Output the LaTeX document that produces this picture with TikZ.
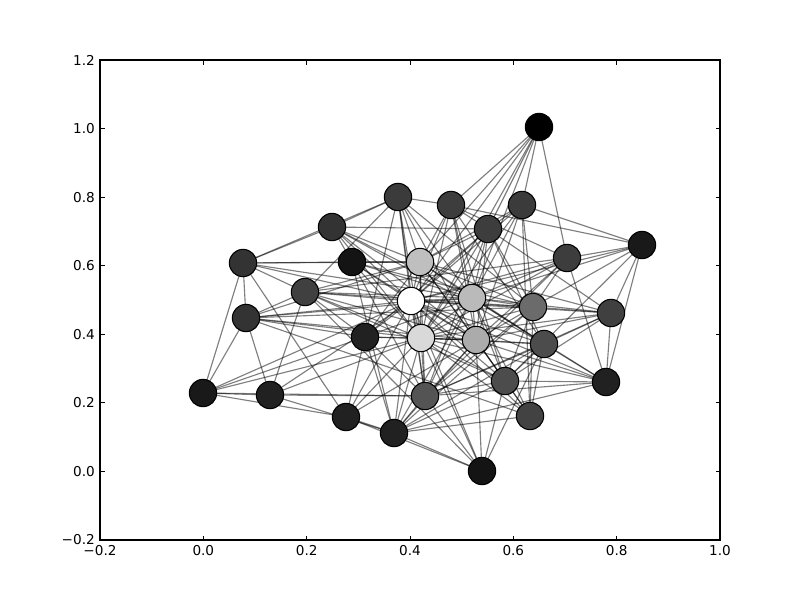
\documentclass[tikz,border=0pt]{standalone}
\usepackage{fontspec}
\setmainfont{DejaVu Sans}
\usetikzlibrary{backgrounds}
\begin{document}
\begin{tikzpicture}[x=0.75pt,y=-0.75pt,
  vtx/.style={circle,draw=black,line width=0.8pt,minimum size=20.5pt,inner sep=0pt},
  edge/.style={draw=black,opacity=0.5,line width=0.85pt},
  tickmark/.style={line width=0.6pt},
  lbl/.style={font=\fontsize{10.2}{12}\selectfont,inner sep=0pt}]
\useasboundingbox (0,0) rectangle (800,600);
% nodes
\node[vtx,fill=black] (n1) at (539,127) {};
\node[vtx,fill=black!77] (n2) at (398,197) {};
\node[vtx,fill=black!76] (n3) at (451,205) {};
\node[vtx,fill=black!77] (n4) at (522,205) {};
\node[vtx,fill=black!80] (n5) at (332,227) {};
\node[vtx,fill=black!76] (n6) at (488,229) {};
\node[vtx,fill=black!80] (n7) at (243,263) {};
\node[vtx,fill=black!92] (n8) at (352,262) {};
\node[vtx,fill=black!25] (n9) at (420,262) {};
\node[vtx,fill=black!76] (n10) at (567,258) {};
\node[vtx,fill=black!90] (n11) at (642,245) {};
\node[vtx,fill=black!75] (n12) at (305,292) {};
\node[vtx,fill=white] (n13) at (411,301) {};
\node[vtx,fill=black!27] (n14) at (472,298) {};
\node[vtx,fill=black!58] (n15) at (533,307) {};
\node[vtx,fill=black!75] (n16) at (611,313) {};
\node[vtx,fill=black!80] (n17) at (246,318) {};
\node[vtx,fill=black!87] (n18) at (365,337) {};
\node[vtx,fill=black!15] (n19) at (421,338) {};
\node[vtx,fill=black!33] (n20) at (476,340) {};
\node[vtx,fill=black!70] (n21) at (544,344) {};
\node[vtx,fill=black!90] (n22) at (203,393) {};
\node[vtx,fill=black!87] (n23) at (270,395) {};
\node[vtx,fill=black!67] (n24) at (425,396) {};
\node[vtx,fill=black!70] (n25) at (505,381) {};
\node[vtx,fill=black!87] (n26) at (606,382) {};
\node[vtx,fill=black!87] (n27) at (346,417) {};
\node[vtx,fill=black!74] (n28) at (530,416) {};
\node[vtx,fill=black!87] (n29) at (394,433) {};
\node[vtx,fill=black!92] (n30) at (482,471) {};
% edges
\begin{scope}[on background layer]
\foreach \a/\b in {1/3,1/4,1/6,1/9,1/10,1/13,1/14,1/19,
 2/3,2/5,2/7,2/9,2/12,2/13,2/14,2/15,2/18,2/19,2/20,2/24,
 3/6,3/9,3/10,3/11,3/13,3/14,3/19,3/20,3/21,3/25,
 4/6,4/9,4/11,4/13,4/14,4/15,4/19,4/20,4/28,
 5/6,5/7,5/8,5/9,5/13,5/14,5/19,5/20,5/21,
 6/9,6/13,6/14,6/15,6/16,6/18,6/19,6/20,6/21,6/24,
 7/8,7/9,7/12,7/13,7/14,7/17,7/22,7/27,
 8/9,8/13,8/14,8/15,8/19,8/20,8/24,8/29,
 9/12,9/13,9/14,9/15,9/16,9/17,9/18,9/19,9/20,9/21,9/24,9/25,
 10/11,10/12,10/13,10/14,10/15,10/19,10/20,10/24,10/26,
 11/13,11/14,11/15,11/16,11/25,11/26,
 12/13,12/14,12/15,12/17,12/18,12/19,12/20,12/23,12/25,12/30,
 13/14,13/15,13/16,13/17,13/18,13/19,13/20,13/21,13/22,13/23,13/24,13/25,13/26,13/27,13/28,13/29,13/30,
 14/15,14/16,14/17,14/18,14/19,14/20,14/21,14/24,14/25,14/26,14/28,14/29,
 15/16,15/17,15/19,15/20,15/24,15/25,15/28,15/29,
 16/19,16/20,16/21,16/24,16/25,16/26,
 17/18,17/19,17/20,17/22,17/23,17/28,
 18/19,18/20,18/22,18/24,18/27,18/29,
 19/20,19/21,19/22,19/23,19/24,19/25,19/26,19/27,19/28,19/29,19/30,
 20/21,20/24,20/25,20/26,20/27,20/28,20/29,20/30,
 21/24,21/25,21/26,21/28,21/29,21/30,
 22/23,22/24,22/27,
 23/24,23/29,
 24/25,24/26,24/29,24/30,
 25/26,25/28,25/29,25/30,
 26/29,27/29,27/30,28/29,29/30}
  \draw[edge] (n\a.center) -- (n\b.center);
\end{scope}
% axes frame
\draw[line width=0.8pt] (100,60) rectangle (720,540);
% x ticks
\foreach \v/\t in {-0.2/{−0.2},0.0/{0.0},0.2/{0.2},0.4/{0.4},0.6/{0.6},0.8/{0.8},1.0/{1.0}}{
  \pgfmathsetmacro{\px}{100+(\v+0.2)*516.667}
  \draw[tickmark] (\px,540) -- (\px,535.5);
  \draw[tickmark] (\px,60) -- (\px,64.5);
  \node[lbl,anchor=north] at (\px,545) {\t};
}
% y ticks
\foreach \v/\t in {-0.2/{−0.2},0.0/{0.0},0.2/{0.2},0.4/{0.4},0.6/{0.6},0.8/{0.8},1.0/{1.0},1.2/{1.2}}{
  \pgfmathsetmacro{\py}{540-(\v+0.2)*342.857}
  \draw[tickmark] (100,\py) -- (104.5,\py);
  \draw[tickmark] (720,\py) -- (715.5,\py);
  \node[lbl,anchor=east] at (95,\py) {\t};
}
\end{tikzpicture}
\end{document}
